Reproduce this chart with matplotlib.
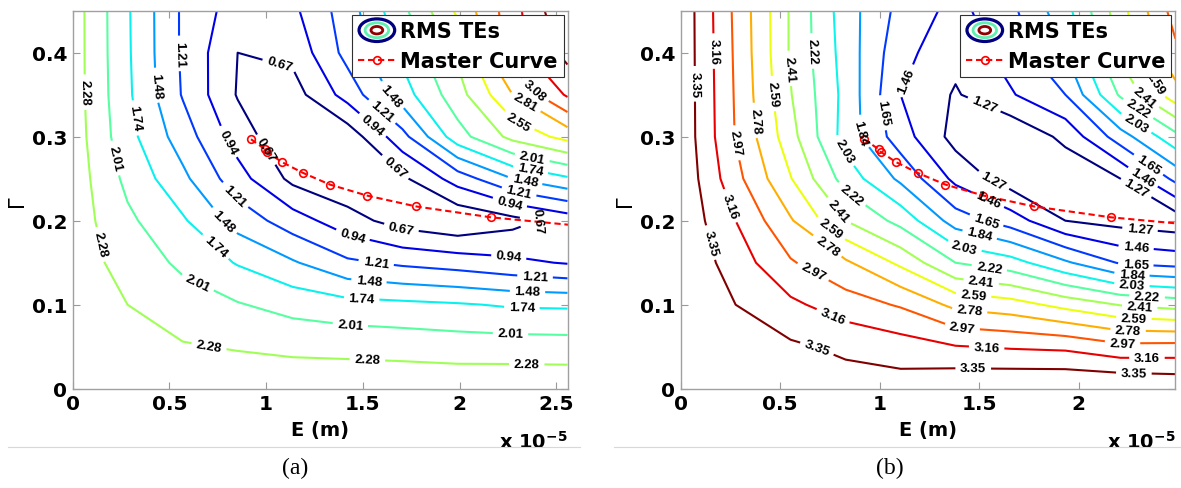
import numpy as np
import matplotlib
matplotlib.use("Agg")
import matplotlib.pyplot as plt
from matplotlib.colors import Normalize
from matplotlib.lines import Line2D
from matplotlib.patches import Ellipse
from matplotlib.legend_handler import HandlerBase
from matplotlib.ticker import FuncFormatter, FixedLocator

plt.rcParams['font.family'] = ['DejaVu Sans']

# ---------------- data ----------------
gamma_grid = [0.00, 0.05, 0.10, 0.15, 0.20, 0.25, 0.30, 0.35, 0.40, 0.45]

# panel (a): E grid (x 1e-5 m) and RMS TE values (rows = gamma, cols = E)
E_grid_a = [0.000, 0.284, 0.569, 0.853, 1.137, 1.421, 1.705, 1.990, 2.274, 2.558]
rms_a = [
    [2.52, 2.50, 2.46, 2.46, 2.46, 2.46, 2.47, 2.47, 2.48, 2.48],
    [2.50, 2.36, 2.30, 2.26, 2.22, 2.205, 2.18, 2.15, 2.14, 2.13],
    [2.48, 2.28, 2.137, 2.03, 1.91, 1.83, 1.80, 1.765, 1.71, 1.70],
    [2.42, 2.18, 1.955, 1.72, 1.51, 1.26, 1.16, 1.09, 1.00, 0.92],
    [2.43, 2.066, 1.775, 1.375, 1.07, 0.78, 0.55, 0.434, 0.58, 0.78],
    [2.44, 1.94, 1.545, 1.05, 0.60, 0.45, 0.62, 1.06, 1.48, 1.70],
    [2.43, 1.83, 1.35, 0.82, 0.42, 0.50, 1.12, 1.90, 2.36, 2.64],
    [2.42, 1.79, 1.19, 0.65, 0.55, 1.05, 1.62, 2.17, 2.81, 3.39],
    [2.42, 1.776, 1.17, 0.67, 0.74, 1.30, 1.80, 2.33, 3.22, 3.71],
    [2.42, 1.77, 1.17, 0.80, 0.88, 1.35, 1.94, 2.60, 3.24, 3.89],
]
levels_a = [0.67, 0.94, 1.21, 1.48, 1.74, 2.01, 2.28, 2.55, 2.81, 3.08, 3.35, 3.62]
xlim_a = 2.558

# panel (b)
E_grid_b = [0.000, 0.276, 0.552, 0.829, 1.105, 1.381, 1.657, 1.933, 2.210, 2.486]
rms_b = [
    [3.54, 3.48, 3.46, 3.44, 3.44, 3.52, 3.54, 3.55, 3.55, 3.52],
    [3.53, 3.42, 3.38, 3.31, 3.25, 3.17, 3.14, 3.12, 3.02, 3.03],
    [3.52, 3.35, 3.20, 3.06, 2.95, 2.73, 2.67, 2.53, 2.40, 2.34],
    [3.51, 3.26, 2.99, 2.81, 2.55, 2.22, 2.11, 1.87, 1.63, 1.58],
    [3.50, 3.16, 2.80, 2.41, 2.16, 1.75, 1.56, 1.27, 1.20, 1.15],
    [3.50, 3.03, 2.60, 2.14, 1.80, 1.41, 1.17, 1.12, 1.27, 1.70],
    [3.49, 2.96, 2.48, 1.95, 1.55, 1.20, 1.10, 1.32, 1.75, 2.16],
    [3.49, 2.95, 2.42, 1.97, 1.46, 1.25, 1.44, 1.65, 2.25, 2.70],
    [3.49, 2.94, 2.39, 1.95, 1.52, 1.33, 1.54, 1.84, 2.45, 2.93],
    [3.49, 2.93, 2.39, 1.93, 1.59, 1.40, 1.60, 1.96, 2.52, 3.05],
]
levels_b = [1.27, 1.46, 1.65, 1.84, 2.03, 2.22, 2.41, 2.59, 2.78, 2.97, 3.16, 3.35]
xlim_b = 2.486

# master curve (same in both panels), E in x 1e-5 m
master_E = [0.922, 0.995, 1.005, 1.080, 1.190, 1.330, 1.520, 1.775, 2.163, 2.800]
master_G = [0.297, 0.285, 0.282, 0.270, 0.257, 0.243, 0.230, 0.217, 0.204, 0.190]

x_ticks_a = [0, 0.5, 1.0, 1.5, 2.0, 2.5]
x_ticks_b = [0, 0.5, 1.0, 1.5, 2.0]
y_ticks = [0, 0.1, 0.2, 0.3, 0.4]

# contour label anchor points (E x 1e-5, Gamma) -- layout only
label_pos_a = [
    (0.536, 0.399), (0.053, 0.353), (0.413, 0.361), (0.297, 0.3215), (0.209, 0.274),
    (1.066, 0.383), (0.774, 0.290), (0.968, 0.280), (0.832, 0.2286), (0.764, 0.195),
    (0.715, 0.163), (0.647, 0.126), (0.127, 0.171), (0.705, 0.0506),
    (1.446, 0.181), (1.699, 0.191), (1.572, 0.1555), (1.533, 0.1318), (1.494, 0.108),
    (1.436, 0.0783), (1.523, 0.0308),
    (2.254, 0.1555), (2.390, 0.1325), (2.351, 0.114), (2.322, 0.096), (2.264, 0.0684),
    (2.347, 0.027), (2.468, 0.195),
    (1.660, 0.262), (1.543, 0.312), (1.590, 0.3275), (1.640, 0.347),
    (2.380, 0.280), (2.370, 0.264), (2.340, 0.250), (2.310, 0.238), (2.264, 0.2246),
    (2.312, 0.3215), (2.330, 0.337), (2.370, 0.351),
]
label_pos_b = [
    (0.085, 0.363), (0.180, 0.402), (0.284, 0.293), (0.351, 0.319), (0.436, 0.351),
    (0.531, 0.381), (0.654, 0.402), (1.129, 0.367), (0.977, 0.327), (0.882, 0.305),
    (0.806, 0.281), (0.228, 0.216), (0.151, 0.174), (0.854, 0.230), (0.787, 0.210),
    (0.740, 0.186), (0.712, 0.162), (0.664, 0.1386), (0.759, 0.083), (0.683, 0.047),
    (1.530, 0.341), (1.556, 0.240), (1.527, 0.216), (1.527, 0.192), (1.499, 0.180),
    (1.423, 0.166), (1.546, 0.1365), (1.508, 0.1235), (1.470, 0.1076), (1.451, 0.091),
    (1.414, 0.071), (1.537, 0.047), (1.470, 0.0235),
    (2.306, 0.184), (2.287, 0.164), (2.287, 0.148), (2.267, 0.1345), (2.267, 0.123),
    (2.343, 0.107), (2.306, 0.0956), (2.277, 0.082), (2.248, 0.069), (2.220, 0.0552),
    (2.343, 0.036), (2.277, 0.0163),
    (2.353, 0.2675), (2.333, 0.2556), (2.306, 0.2457), (2.287, 0.315), (2.290, 0.330),
    (2.324, 0.345), (2.353, 0.360),
]


class HandlerContourIcon(HandlerBase):
    def create_artists(self, legend, orig_handle, xdescent, ydescent,
                       width, height, fontsize, trans):
        cx = width / 2 - xdescent
        cy = height / 2 - ydescent
        arts = []
        for s, c, lw in [(1.0, '#00007f', 2.3), (0.66, '#60f0b0', 2.0), (0.33, '#8f0000', 2.0)]:
            e = Ellipse((cx, cy), width * 0.95 * s, height * 1.55 * s,
                        fill=False, edgecolor=c, lw=lw, transform=trans)
            arts.append(e)
        return arts


def draw_panel(fig, rect, E_grid, rms, levels, xlim, xticks, label_pos, caption, cap_x):
    ax = fig.add_axes(rect)
    X = np.array(E_grid) * 1e-5
    Y = np.array(gamma_grid)
    Z = np.array(rms)
    norm = Normalize(vmin=min(levels), vmax=max(levels))
    cs = ax.contour(X, Y, Z, levels=levels, cmap='jet', norm=norm,
                    linewidths=1.5, algorithm='serial')
    manual = [(e * 1e-5, g) for e, g in label_pos]
    ax.clabel(cs, fmt='%.2f', fontsize=9.5, inline=True, inline_spacing=3,
              colors='k', manual=manual)
    for t in cs.labelTexts:
        t.set_fontweight('bold')
        t.set_fontfamily('Liberation Sans')
    ax.plot(np.array(master_E) * 1e-5, master_G, color='red', lw=1.5,
            dashes=(3.0, 1.8), marker='o', mfc='none', mec='red', ms=5.5, mew=1.2)
    ax.set_xlim(0, xlim * 1e-5)
    ax.set_ylim(0, 0.45)
    ax.xaxis.set_major_locator(FixedLocator(np.array(xticks) * 1e-5))
    ax.xaxis.set_major_formatter(FuncFormatter(lambda v, p: '%g' % round(v * 1e5, 3)))
    ax.yaxis.set_major_locator(FixedLocator(y_ticks))
    ax.yaxis.set_major_formatter(FuncFormatter(lambda v, p: '%g' % round(v, 3)))
    ax.tick_params(direction='in', length=5, width=0.8, color='#9a9a9a',
                   top=True, right=True, labelsize=14.5, pad=4)
    for lab in ax.get_xticklabels() + ax.get_yticklabels():
        lab.set_fontweight('bold')
    for sp in ax.spines.values():
        sp.set_color('#a0a0a0')
        sp.set_linewidth(1.0)
    ax.set_xlabel('E (m)', fontsize=14, fontweight='bold', labelpad=5)
    ax.set_ylabel('Γ', fontsize=15)
    ax.yaxis.set_label_coords(-0.093, 0.5)
    ax.text(1.0, -0.11, r'x 10$^{\mathbf{-5}}$', transform=ax.transAxes,
            ha='right', va='top', fontsize=14, fontweight='bold')
    proxy = Line2D([], [], color='none')
    mline = Line2D([], [], color='red', lw=1.5, dashes=(3.0, 1.8), marker='o',
                   mfc='none', mec='red', ms=5.5, mew=1.2)
    leg = ax.legend([proxy, mline], ['RMS TEs', 'Master Curve'],
                    handler_map={proxy: HandlerContourIcon()},
                    loc='upper right', bbox_to_anchor=(0.992, 0.988),
                    prop={'weight': 'bold', 'size': 15}, frameon=True,
                    fancybox=False, framealpha=1, edgecolor='#303030',
                    borderpad=0.3, labelspacing=0.45, handlelength=1.8,
                    handletextpad=0.2, borderaxespad=0.0)
    leg.get_frame().set_linewidth(0.8)
    fig.text(cap_x, 0.041, caption, ha='center', va='center',
             fontsize=17, family='Liberation Serif')
    return ax


fig = plt.figure(figsize=(11.81, 4.89), dpi=100)
bottom = 1 - 389.7 / 489
height = (389.7 - 11.7) / 489
draw_panel(fig, [72.6 / 1181, bottom, (567.5 - 72.6) / 1181, height],
           E_grid_a, rms_a, levels_a, xlim_a, x_ticks_a, label_pos_a, '(a)', 295 / 1181)
draw_panel(fig, [680.7 / 1181, bottom, (1175.4 - 680.7) / 1181, height],
           E_grid_b, rms_b, levels_b, xlim_b, x_ticks_b, label_pos_b, '(b)', 890 / 1181)

# thin separator lines under each panel
fig.add_artist(Line2D([8 / 1181, 580 / 1181], [1 - 448 / 489] * 2,
                      color='#d8d8d8', lw=0.8))
fig.add_artist(Line2D([614 / 1181, 1.0], [1 - 448 / 489] * 2,
                      color='#d8d8d8', lw=0.8))

fig.savefig('out.png', dpi=100, facecolor='white')
